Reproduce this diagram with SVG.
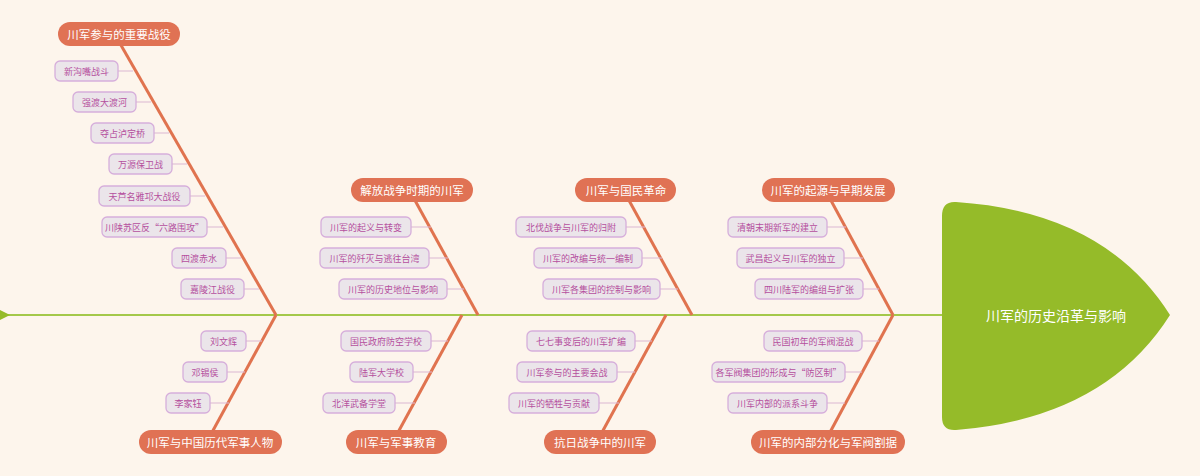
<svg xmlns="http://www.w3.org/2000/svg" width="1200" height="476" viewBox="0 0 1200 476">
<style>
text{font-family:"Noto Sans CJK SC","Noto Sans",sans-serif;text-anchor:middle;dominant-baseline:central}
.b{stroke:#e0734f;stroke-width:3;fill:none}
.c{stroke:#dcb8d2;stroke-width:1.2;fill:none}
.lab rect{fill:#e07254}
.lab text{fill:#fff;font-size:11.5px}
.it rect{fill:#ebe5ea;stroke:#d6aedb;stroke-width:1.3}
.it text{fill:#b5509e;font-size:9px}
</style>
<rect width="1200" height="476" fill="#fdf5ec"/>
<g id="connectors">
<line x1="0" y1="315" x2="945" y2="315" stroke="#a4c84a" stroke-width="2"/>
<polygon points="0,310 10,315 0,320" fill="#95bb29"/>
<line class="b" x1="118" y1="40" x2="276" y2="315"/>
<line class="b" x1="412" y1="195" x2="478" y2="315"/>
<line class="b" x1="626" y1="195" x2="692" y2="315"/>
<line class="b" x1="828" y1="195" x2="893" y2="315"/>
<line class="b" x1="276" y1="315" x2="210" y2="436"/>
<line class="b" x1="462" y1="315" x2="396" y2="436"/>
<line class="b" x1="666" y1="315" x2="600" y2="436"/>
<line class="b" x1="893" y1="315" x2="828" y2="436"/>
<path class="c" d="M118 71H133M136 102H151M154 133H169M172 164H187M190 196H205M207 227H223M226 258H241M244 289H259"/>
<path class="c" d="M411 227H431M429 258H448M447 289H464"/>
<path class="c" d="M626 227H645M642 258H662M660 289H678"/>
<path class="c" d="M827 227H846M844 258H863M863 289H879"/>
<path class="c" d="M246 341H262M227 372H245M210 403H229"/>
<path class="c" d="M431 341H448M413 372H432M395 403H415"/>
<path class="c" d="M635 341H652M617 372H635M599 403H619"/>
<path class="c" d="M862 341H879M845 372H862M827 403H845"/>
</g>
<g id="head">
<path d="M956,202 Q1105,212 1170,315 Q1105,418 956,430 Q942,431 942,417 L942,216 Q942,201 956,202 Z" fill="#95bb29"/>
<text x="1056" y="315" fill="#fff" font-size="14">川军的历史沿革与影响</text>
</g>
<g id="branch1" class="lab"><rect x="58" y="22" width="122" height="24" rx="12"/><text x="119" y="34">川军参与的重要战役</text></g>
<g id="branch2" class="lab"><rect x="351" y="178" width="122" height="24" rx="12"/><text x="412" y="190">解放战争时期的川军</text></g>
<g id="branch3" class="lab"><rect x="575" y="178" width="101" height="24" rx="12"/><text x="626" y="190">川军与国民革命</text></g>
<g id="branch4" class="lab"><rect x="762" y="178" width="133" height="24" rx="12"/><text x="828" y="190">川军的起源与早期发展</text></g>
<g id="branch5" class="lab"><rect x="139" y="430" width="143" height="24" rx="12"/><text x="210" y="442">川军与中国历代军事人物</text></g>
<g id="branch6" class="lab"><rect x="346" y="430" width="101" height="24" rx="12"/><text x="396" y="442">川军与军事教育</text></g>
<g id="branch7" class="lab"><rect x="544" y="430" width="112" height="24" rx="12"/><text x="600" y="442">抗日战争中的川军</text></g>
<g id="branch8" class="lab"><rect x="751" y="430" width="154" height="24" rx="12"/><text x="828" y="442">川军的内部分化与军阀割据</text></g>
<g class="it">
<g id="i1"><rect x="55" y="61" width="63" height="20" rx="5"/><text x="86.5" y="71">新沟嘴战斗</text></g>
<g id="i2"><rect x="73" y="92" width="63" height="20" rx="5"/><text x="104.5" y="102">强渡大渡河</text></g>
<g id="i3"><rect x="91" y="123" width="63" height="20" rx="5"/><text x="122.5" y="133">夺占泸定桥</text></g>
<g id="i4"><rect x="109" y="154" width="63" height="20" rx="5"/><text x="140.5" y="164">万源保卫战</text></g>
<g id="i5"><rect x="99" y="186" width="91" height="20" rx="5"/><text x="144.5" y="196">天芦名雅邛大战役</text></g>
<g id="i6"><rect x="102" y="217" width="105" height="20" rx="5"/><text x="154.5" y="227">川陕苏区反“六路围攻”</text></g>
<g id="i7"><rect x="172" y="248" width="54" height="20" rx="5"/><text x="199" y="258">四渡赤水</text></g>
<g id="i8"><rect x="181" y="279" width="63" height="20" rx="5"/><text x="212.5" y="289">嘉陵江战役</text></g>
<g id="i9"><rect x="321" y="217" width="90" height="20" rx="5"/><text x="366" y="227">川军的起义与转变</text></g>
<g id="i10"><rect x="320" y="248" width="109" height="20" rx="5"/><text x="374.5" y="258">川军的歼灭与逃往台湾</text></g>
<g id="i11"><rect x="339" y="279" width="108" height="20" rx="5"/><text x="393" y="289">川军的历史地位与影响</text></g>
<g id="i12"><rect x="516" y="217" width="110" height="20" rx="5"/><text x="571" y="227">北伐战争与川军的归附</text></g>
<g id="i13"><rect x="534" y="248" width="108" height="20" rx="5"/><text x="588" y="258">川军的改编与统一编制</text></g>
<g id="i14"><rect x="543" y="279" width="117" height="20" rx="5"/><text x="601.5" y="289">川军各集团的控制与影响</text></g>
<g id="i15"><rect x="728" y="217" width="99" height="20" rx="5"/><text x="777.5" y="227">清朝末期新军的建立</text></g>
<g id="i16"><rect x="737" y="248" width="107" height="20" rx="5"/><text x="790.5" y="258">武昌起义与川军的独立</text></g>
<g id="i17"><rect x="755" y="279" width="108" height="20" rx="5"/><text x="809" y="289">四川陆军的编组与扩张</text></g>
<g id="i18"><rect x="201" y="331" width="45" height="20" rx="5"/><text x="223.5" y="341">刘文辉</text></g>
<g id="i19"><rect x="183" y="362" width="44" height="20" rx="5"/><text x="205" y="372">邓锡侯</text></g>
<g id="i20"><rect x="166" y="393" width="44" height="20" rx="5"/><text x="188" y="403">李家钰</text></g>
<g id="i21"><rect x="341" y="331" width="90" height="20" rx="5"/><text x="386" y="341">国民政府防空学校</text></g>
<g id="i22"><rect x="350" y="362" width="63" height="20" rx="5"/><text x="381.5" y="372">陆军大学校</text></g>
<g id="i23"><rect x="323" y="393" width="72" height="20" rx="5"/><text x="359" y="403">北洋武备学堂</text></g>
<g id="i24"><rect x="527" y="331" width="108" height="20" rx="5"/><text x="581" y="341">七七事变后的川军扩编</text></g>
<g id="i25"><rect x="517" y="362" width="100" height="20" rx="5"/><text x="567" y="372">川军参与的主要会战</text></g>
<g id="i26"><rect x="509" y="393" width="90" height="20" rx="5"/><text x="554" y="403">川军的牺牲与贡献</text></g>
<g id="i27"><rect x="764" y="331" width="98" height="20" rx="5"/><text x="813" y="341">民国初年的军阀混战</text></g>
<g id="i28"><rect x="712" y="362" width="133" height="20" rx="5"/><text x="778.5" y="372">各军阀集团的形成与“防区制”</text></g>
<g id="i29"><rect x="728" y="393" width="99" height="20" rx="5"/><text x="777.5" y="403">川军内部的派系斗争</text></g>
</g>
</svg>
